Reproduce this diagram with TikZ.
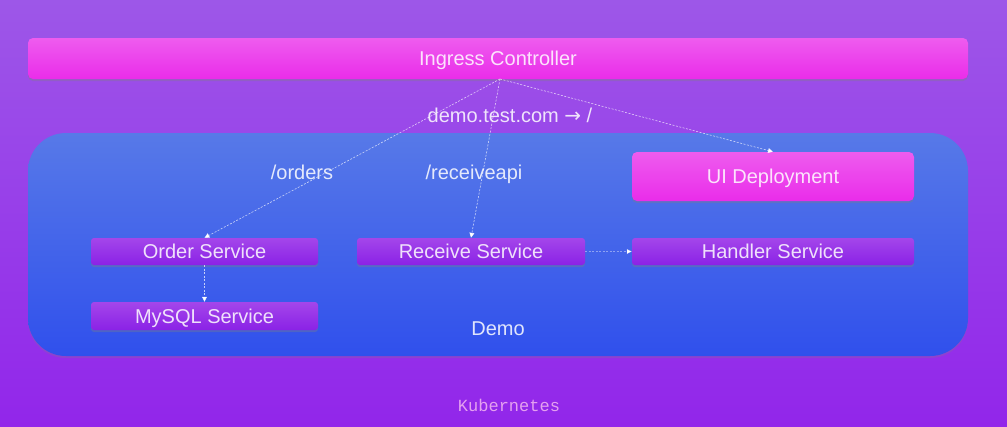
\documentclass[tikz,border=0pt]{standalone}
\usepackage{fontspec}
\setmainfont{Liberation Sans}
\newfontfamily\kmono{Liberation Mono}
\newfontfamily\arrowfont{DejaVu Sans}
\usetikzlibrary{shadows,arrows.meta}
\definecolor{bgtop}{HTML}{9D57E8}
\definecolor{bgbot}{HTML}{9226EA}
\definecolor{demotop}{HTML}{5779E8}
\definecolor{demobot}{HTML}{3050EC}
\definecolor{pinktop}{HTML}{EE5CEE}
\definecolor{pinkbot}{HTML}{EA2CEA}
\definecolor{svctop}{HTML}{A446EA}
\definecolor{svcbot}{HTML}{8A22E6}
\definecolor{kubetxt}{HTML}{E4A0F0}
\tikzset{
  pinkbox/.style={rounded corners=5pt, top color=pinktop, bottom color=pinkbot, draw=none,
    drop shadow={shadow xshift=0pt, shadow yshift=-2pt, opacity=0.35},
    text=white, text opacity=0.85, font=\fontsize{20}{22}\selectfont, inner sep=0pt, text depth=0pt},
  svcbox/.style={rounded corners=3pt, top color=svctop, bottom color=svcbot, draw=none,
    drop shadow={shadow xshift=0pt, shadow yshift=-2pt, opacity=0.35},
    text=white, text opacity=0.85, font=\fontsize{20}{22}\selectfont, inner sep=0pt, text depth=0pt},
  lbl/.style={text=white, text opacity=0.85, font=\fontsize{20}{22}\selectfont, inner sep=0pt, text depth=0pt},
  flow/.style={draw=white, draw opacity=0.7, line width=0.6pt, dash pattern=on 2pt off 1.5pt,
    -{Triangle[length=5pt,width=5pt,fill=white]}},
}
\begin{document}
\begin{tikzpicture}[x=1pt,y=-1pt]
\useasboundingbox (0,0) rectangle (1007,426);
\shade[top color=bgtop, bottom color=bgbot] (0,0) rectangle (1007,426);
% Demo container
\node[rounded corners=38pt, top color=demotop, bottom color=demobot, draw=none,
  minimum width=940pt, minimum height=223pt, inner sep=0pt,
  drop shadow={shadow xshift=0pt, shadow yshift=-2pt, opacity=0.25}] (demo) at (498,244.5) {};
\node[pinkbox, minimum width=940pt, minimum height=41pt] (ingress) at (498,58.5) {Ingress Controller};
\node[lbl] (host) at (510,115) {demo.test.com {\arrowfont\symbol{"2192}} /};
\node[lbl] (orders) at (302,172) {/orders};
\node[lbl] (recv) at (474,172) {/receiveapi};
\node[pinkbox, minimum width=282pt, minimum height=49pt] (ui) at (773,176.5) {UI Deployment};
\node[svcbox, minimum width=227pt, minimum height=27pt] (order) at (204.5,251.5) {Order Service};
\node[svcbox, minimum width=228pt, minimum height=27pt] (receive) at (471,251.5) {Receive Service};
\node[svcbox, minimum width=282pt, minimum height=27pt] (handler) at (773,251.5) {Handler Service};
\node[svcbox, minimum width=227pt, minimum height=28pt] (mysql) at (204.5,316) {MySQL Service};
\node[lbl] (demolbl) at (498,329) {Demo};
\node[text=kubetxt, font=\kmono\fontsize{17}{19}\selectfont, inner sep=0pt] (kube) at (509,405) {Kubernetes};
\coordinate (src) at (500,79);
\draw[flow] (src) -- (order.north);
\draw[flow] (src) -- (receive.north);
\draw[flow] (src) -- (ui.north);
\draw[flow] (order.south) -- (mysql.north);
\draw[flow, draw opacity=0.4] (receive.east) -- (handler.west);
\end{tikzpicture}
\end{document}
